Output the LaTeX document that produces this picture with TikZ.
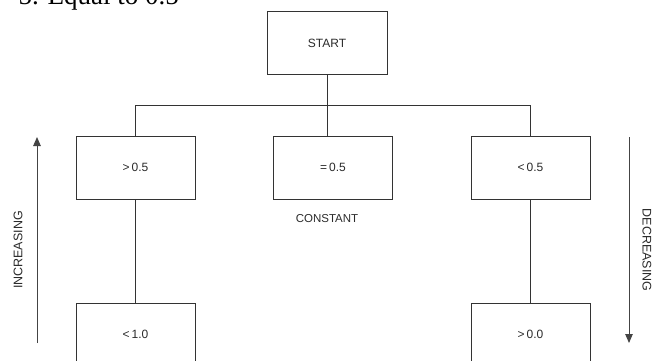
\documentclass[tikz,border=0pt]{standalone}
\usepackage{fontspec}
\setmainfont{Liberation Sans}
\newfontfamily\pageserif{Liberation Serif}
\usetikzlibrary{arrows.meta, positioning}
\definecolor{cline}{HTML}{333333}
\definecolor{carrow}{HTML}{444444}
\definecolor{ctext}{HTML}{2B2B2B}
\tikzset{
  every picture/.style={line width=1pt},
  box/.style={draw=cline, fill=white, minimum width=119pt, minimum height=63pt, inner sep=0pt, text=ctext, font=\fontsize{12}{14}\selectfont},
  link/.style={draw=cline, line width=1pt},
  trend/.style={-{Triangle[length=9pt, width=7.5pt]}, draw=carrow, line width=1pt},
  tag/.style={text=ctext, inner sep=0pt, font=\fontsize{12.5}{14}\selectfont},
}
\begin{document}
\begin{tikzpicture}[x=1pt, y=-1pt]
  \clip (0,0) rectangle (661,361);
  \fill[white] (0,0) rectangle (661,361);
  % cut-off line of the page above
  \node[anchor=base west, inner sep=0pt, font=\pageserif\fontsize{27}{30}\selectfont] (head) at (18,5) {5. Equal to 0.5};
  \node[box, minimum width=120pt, minimum height=62pt] (start) at (327,43) {START};
  \node[box] (gt) at (135.5,167.5) {>\,0.5};
  \node[box] (eq) at (333,167.5) {=\,0.5};
  \node[box] (lt) at (530.5,167.5) {<\,0.5};
  \node[box] (lo) at (135.5,334.5) {<\,1.0};
  \node[box] (hi) at (530.5,334.5) {>\,0.0};
  \node[tag, font=\fontsize{11.5}{13}\selectfont] (const) at (327,219) {CONSTANT};
  \draw[link] (start.south) -- ++(0,31) coordinate (fork);
  \draw[link] (gt.north) |- (fork) -| (lt.north);
  \draw[link] (fork) -- (fork |- eq.north);
  \draw[link] (gt) -- (lo);
  \draw[link] (lt) -- (hi);
  % trend arrows at the sides
  \coordinate (incA) at (37,343);
  \coordinate (incB) at (37,137);
  \coordinate (decA) at (629,137);
  \coordinate (decB) at (629,343);
  \draw[trend] (incA) -- (incB);
  \draw[trend] (decA) -- (decB);
  \node[tag, rotate=90] (inc) at (18,250) {INCREASING};
  \node[tag, rotate=-90] (dec) at (647,250) {DECREASING};
\end{tikzpicture}
\end{document}
